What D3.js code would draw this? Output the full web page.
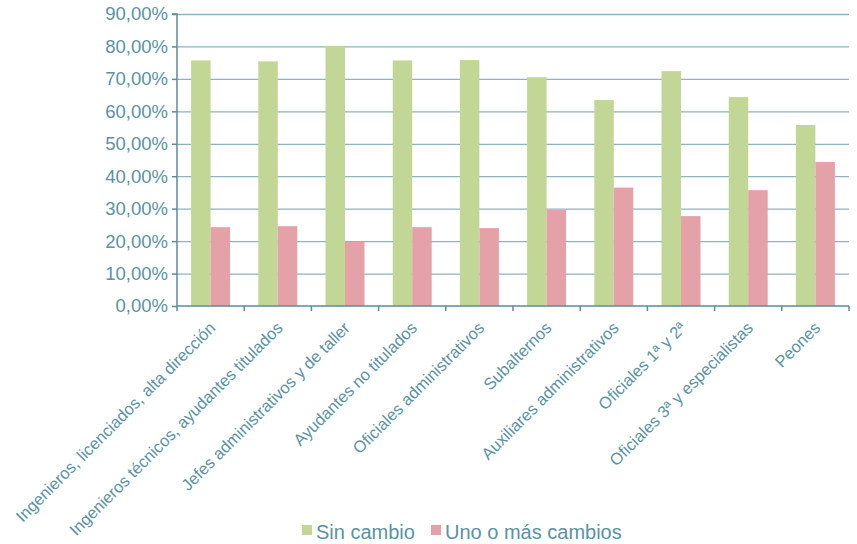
<!DOCTYPE html>
<html><head><meta charset="utf-8">
<script src="https://cdn.jsdelivr.net/npm/d3@7"></script>
<style>
body{margin:0;background:#fff;}
text{font-family:"Liberation Sans",Arial,sans-serif;}
</style></head>
<body><svg id="c" width="857" height="544"></svg>
<script>
const categories = ["Ingenieros, licenciados, alta dirección","Ingenieros técnicos, ayudantes titulados","Jefes administrativos y de taller","Ayudantes no titulados","Oficiales administrativos","Subalternos","Auxiliares administrativos","Oficiales 1ª y 2ª","Oficiales 3ª y especialistas","Peones"];
const sinCambio = [75.7, 75.4, 80.2, 75.7, 75.8, 70.5, 63.5, 72.4, 64.4, 55.8];
const unoOMas   = [24.3, 24.6, 19.8, 24.3, 24.0, 29.6, 36.5, 27.7, 35.7, 44.4];
const seriesNames = ["Sin cambio","Uno o más cambios"];
const yTicks = [0,10,20,30,40,50,60,70,80,90];

const colors = ["#c2d796","#e5a1a8"];
const textColor = "#5b92a3";
const axisColor = "#5a8c9e";
const gridColor = "#8fb2bf";

const svg = d3.select("#c");
const L = 177, R = 849, T = 14, B = 306;
const x = d3.scaleBand().domain(categories).range([L,R]).padding(0);
const y = d3.scaleLinear().domain([0,90]).range([B,T]);

// grid
svg.append("g").selectAll("line").data(yTicks.filter(d=>d>0)).join("line")
  .attr("x1",L).attr("x2",R).attr("y1",d=>y(d)+0.5).attr("y2",d=>y(d)+0.5)
  .attr("stroke",gridColor).attr("stroke-width",1.3);

// bars
const bw = x.bandwidth()*0.29;
const data = [sinCambio, unoOMas];
data.forEach((vals,si)=>{
  svg.append("g").selectAll("rect").data(vals).join("rect")
    .attr("x",(d,i)=>x(categories[i])+x.bandwidth()/2 - bw + si*bw)
    .attr("width",bw)
    .attr("y",d=>y(d)).attr("height",d=>B-y(d))
    .attr("fill",colors[si]);
});

// y axis
const ya = svg.append("g").attr("transform",`translate(${L},0)`)
  .call(d3.axisLeft(y).tickValues(yTicks).tickSize(5).tickPadding(4)
    .tickFormat(d=>d3.format(".2f")(d).replace(".",",")+"%"));
ya.select(".domain").attr("stroke",axisColor).attr("stroke-width",1.5).attr("d",`M-5,${T}H0V${B}`);
ya.selectAll(".tick line").attr("stroke",axisColor).attr("stroke-width",1.5);
ya.selectAll(".tick text").attr("fill",textColor).style("font-size","18.5px");

// x axis
const xa = svg.append("g").attr("transform",`translate(0,${B})`);
xa.append("line").attr("x1",L).attr("x2",R).attr("y1",0).attr("y2",0).attr("stroke",axisColor).attr("stroke-width",1.5);
const bounds = categories.map(c=>x(c)).concat([R]);
xa.selectAll("line.t").data(bounds).join("line").attr("class","t")
  .attr("x1",d=>d).attr("x2",d=>d).attr("y1",0).attr("y2",5).attr("stroke",axisColor).attr("stroke-width",1.5);

xa.selectAll("text.lab").data(categories).join("text").attr("class","lab")
  .attr("transform",d=>`translate(${x(d)+x.bandwidth()/2+6},23) rotate(-45)`)
  .attr("text-anchor","end").attr("fill",textColor).style("font-size","16.5px")
  .text(d=>d);

// legend
const leg = svg.append("g");
const legX = [302, 431];
seriesNames.forEach((n,i)=>{
  leg.append("rect").attr("x",legX[i]).attr("y",525).attr("width",10).attr("height",10).attr("fill",colors[i]);
  leg.append("text").attr("x",legX[i]+14).attr("y",539).attr("fill",textColor).style("font-size","20px").text(n);
});
</script></body></html>
